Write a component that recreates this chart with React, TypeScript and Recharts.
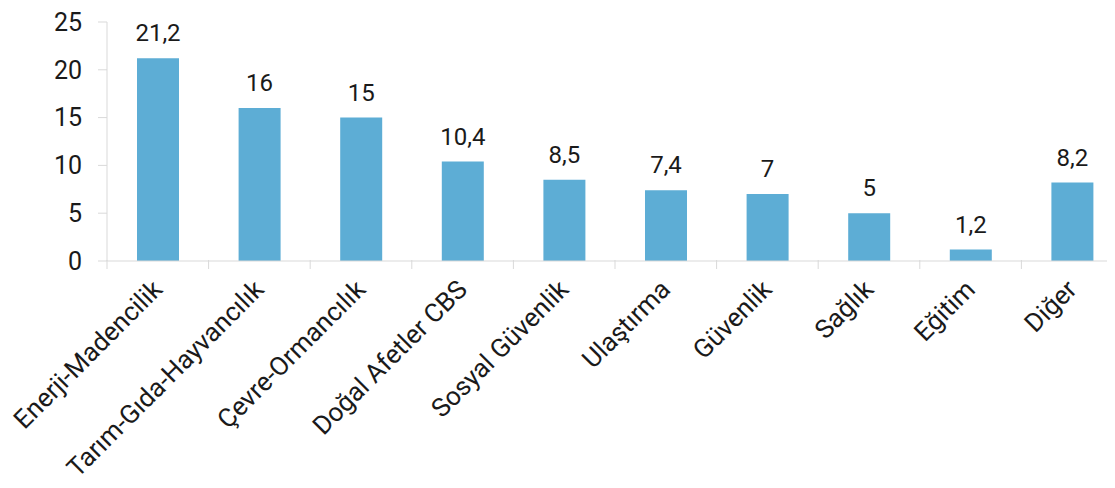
import React from "react";
import { BarChart, Bar, XAxis, YAxis, LabelList } from "recharts";

const categories = [
  "Enerji-Madencilik",
  "Tarım-Gıda-Hayvancılık",
  "Çevre-Ormancılık",
  "Doğal Afetler CBS",
  "Sosyal Güvenlik",
  "Ulaştırma",
  "Güvenlik",
  "Sağlık",
  "Eğitim",
  "Diğer",
];
const values = [21.2, 16, 15, 10.4, 8.5, 7.4, 7, 5, 1.2, 8.2];
const yTicks = [0, 5, 10, 15, 20, 25];

const data = categories.map((c, i) => ({ name: c, value: values[i] }));

const FONT = "Roboto, 'DejaVu Sans', sans-serif";
const AXIS = "#d9d9d9";
const TEXT = "#1a1a1a";

const CatTick = (props: any) => {
  const { x, y, payload } = props;
  const off = payload && typeof payload.offset === "number" ? payload.offset : 0;
  const ax = x + 6;
  const ay = y + 22;
  return (
    <g>
      <line x1={x - off} y1={y - 9} x2={x - off} y2={y} stroke={AXIS} strokeWidth={1} />
      <text
        x={ax}
        y={ay}
        transform={`rotate(-45, ${ax}, ${ay})`}
        textAnchor="end"
        fill={TEXT}
        fontSize={26}
        fontFamily={FONT}
      >
        {payload.value}
      </text>
    </g>
  );
};

export default function App() {
  return (
    <div style={{ width: 1107, height: 480, overflow: "hidden" }}>
      <BarChart
        width={1115}
        height={480}
        data={data}
        margin={{ top: 14, right: 0, bottom: 0, left: 0 }}
      >
        <XAxis
          dataKey="name"
          interval={0}
          height={227}
          axisLine={{ stroke: AXIS, strokeWidth: 1 }}
          tickLine={false}
          tick={<CatTick />}
        />
        <YAxis
          domain={[0, 25]}
          ticks={yTicks}
          width={99}
          axisLine={{ stroke: AXIS, strokeWidth: 1 }}
          tickLine={{ stroke: AXIS }}
          tickSize={9}
          tickMargin={16}
          tick={{ fill: TEXT, fontSize: 25, fontFamily: FONT }}
        />
        <Bar dataKey="value" fill="#5dadd5" barSize={42} isAnimationActive={false}>
          <LabelList
            dataKey="value"
            position="top"
            offset={17}
            formatter={(v: any) => String(v).replace(".", ",")}
            style={{ fill: TEXT, fontSize: 24, fontFamily: FONT }}
          />
        </Bar>
      </BarChart>
    </div>
  );
}
